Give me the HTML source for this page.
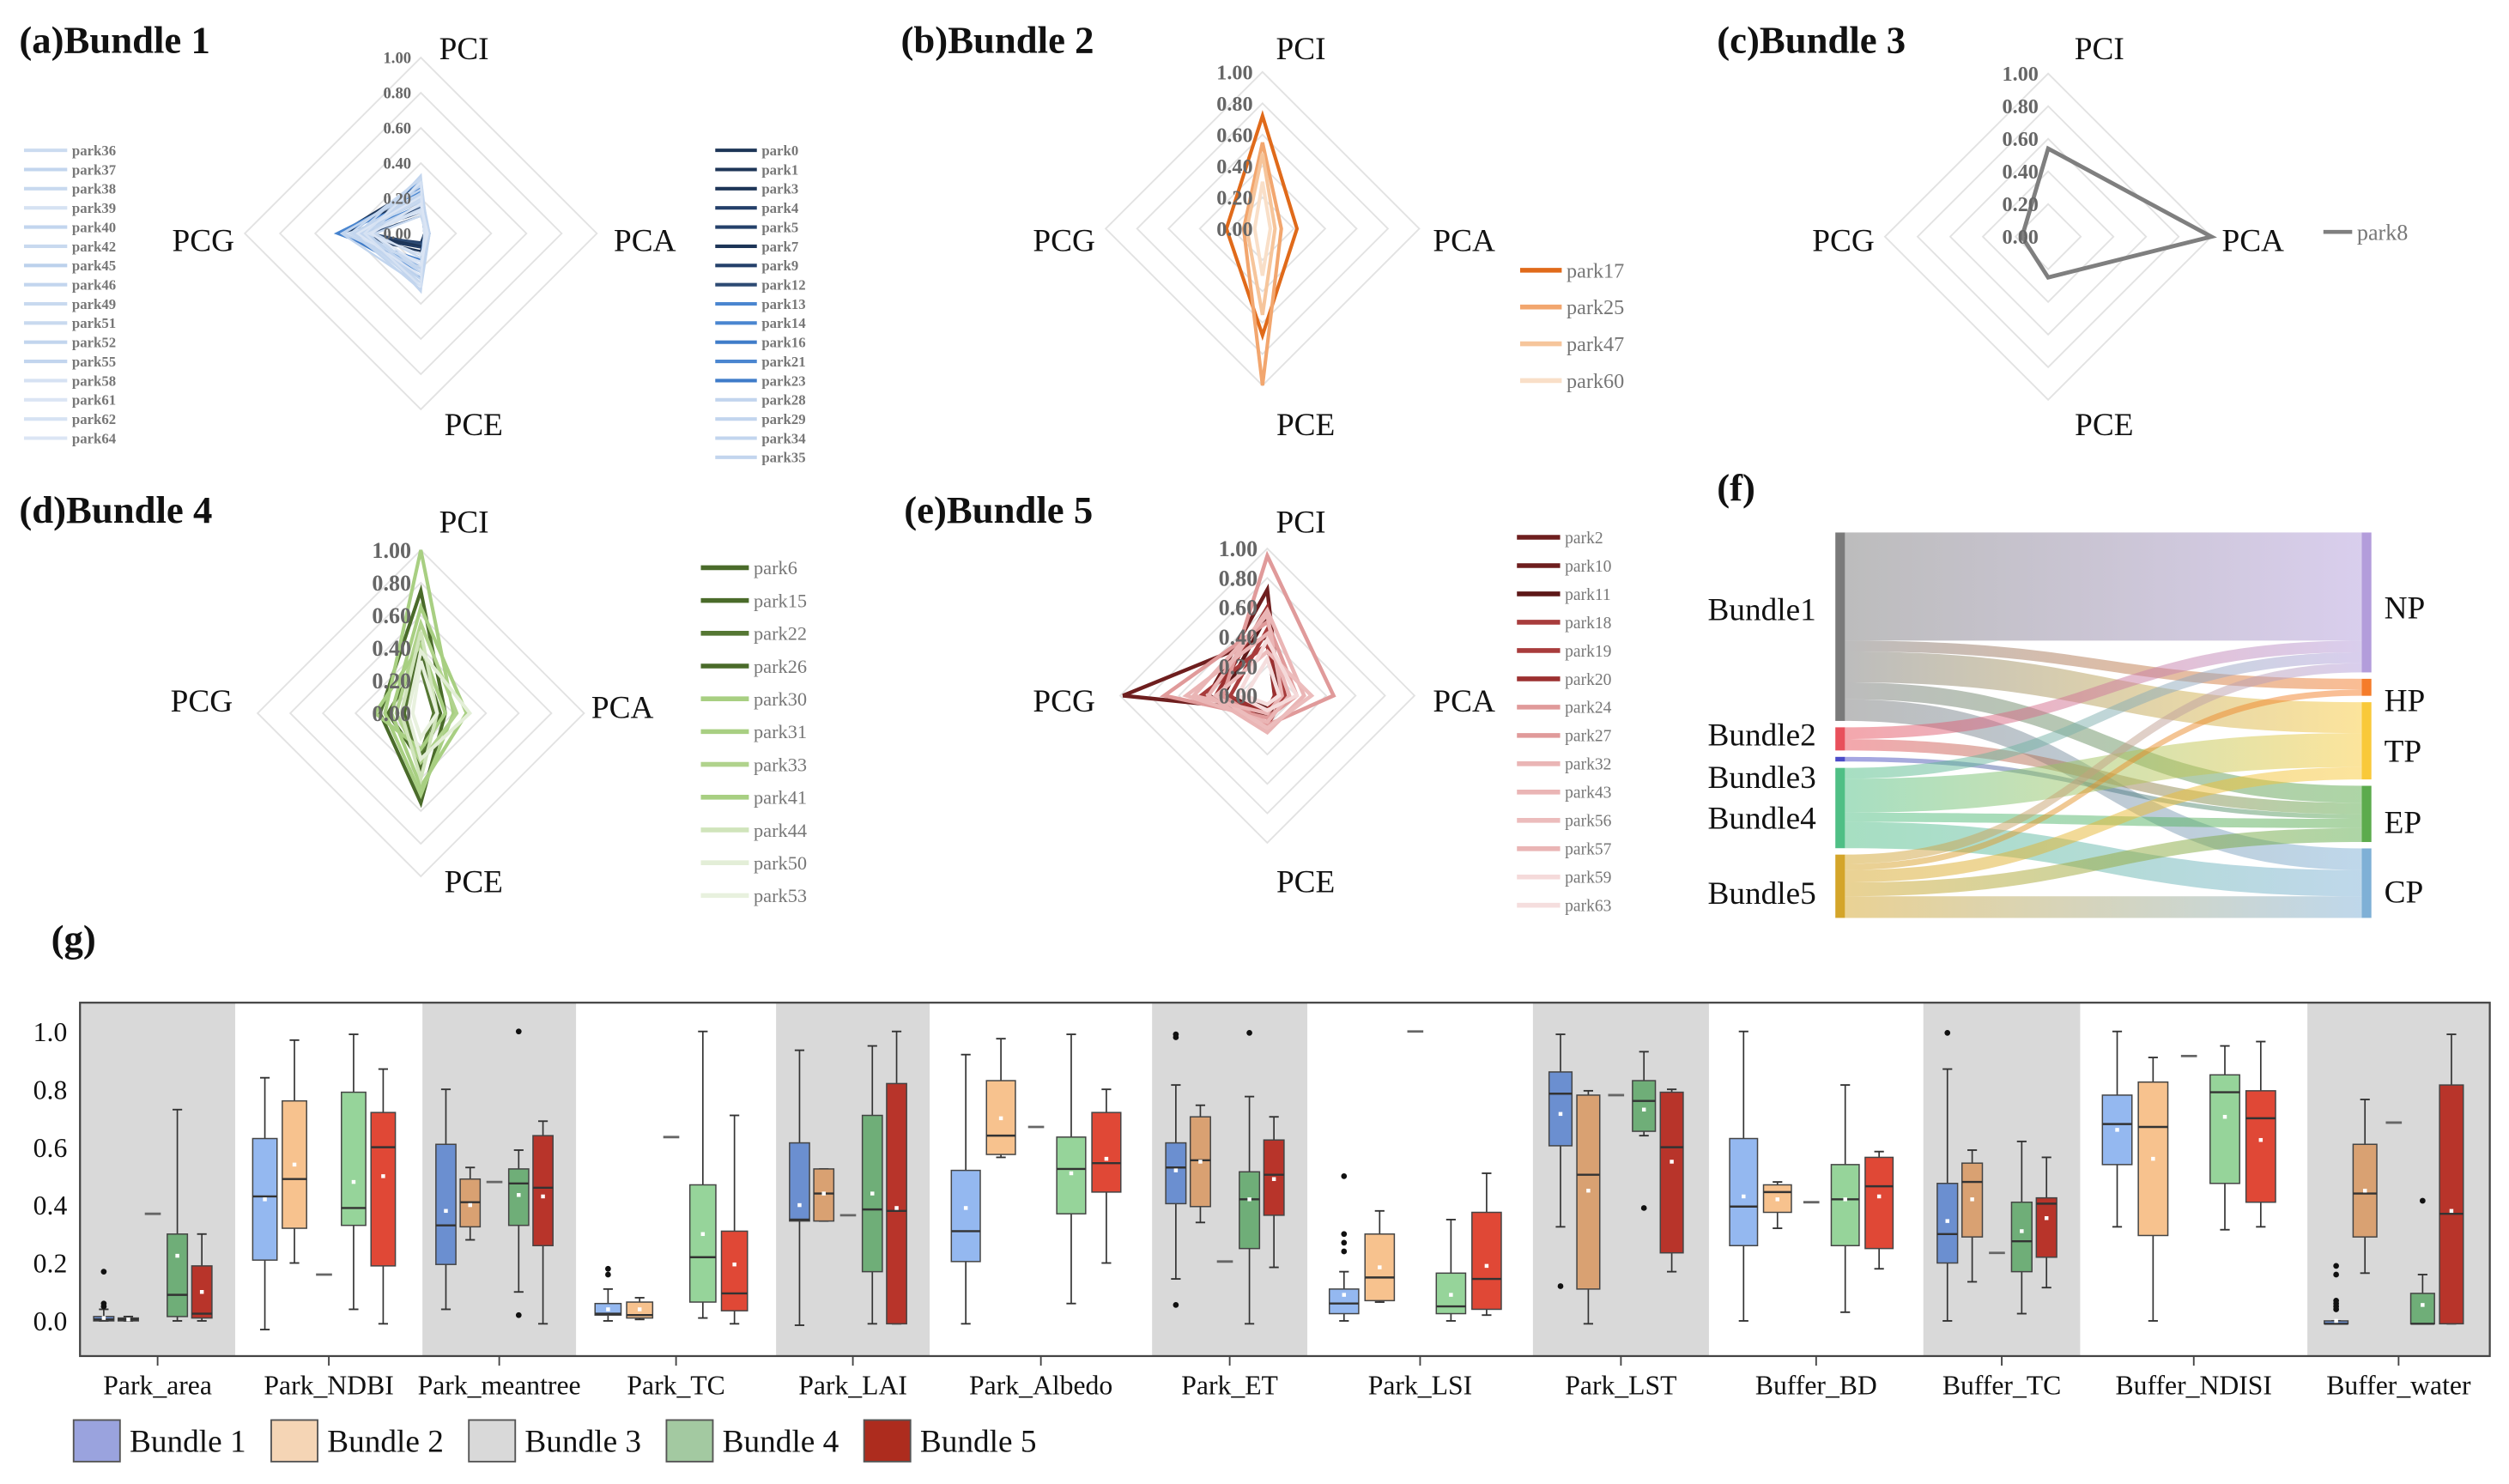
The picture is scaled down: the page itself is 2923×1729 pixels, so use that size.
<!DOCTYPE html>
<html><head><meta charset="utf-8"><style>
html,body{margin:0;padding:0;background:#fff;}
svg{display:block;font-family:"Liberation Serif",serif;}
</style></head><body>
<svg id="fig" width="2923" height="1729" viewBox="0 0 1568 928" preserveAspectRatio="none" xmlns="http://www.w3.org/2000/svg">
<g font-weight="bold" font-size="24" fill="#111">
<text x="12" y="33">(a)Bundle 1</text>
<text x="563" y="33">(b)Bundle 2</text>
<text x="1073" y="33">(c)Bundle 3</text>
<text x="12" y="327">(d)Bundle 4</text>
<text x="565" y="327">(e)Bundle 5</text>
<text x="1073" y="313">(f)</text>
<text x="32" y="595">(g)</text>
</g>
<g id="radars"></g>
<g id="sankey"></g>
<g id="box"></g>
</svg>
<script>
// ---------- RADAR DATA ----------
const radarAxes = ["PCI","PCA","PCE","PCG"];
const radarTicks = ["0.00","0.20","0.40","0.60","0.80","1.00"];
const b1Names = ["park0","park1","park3","park4","park5","park7","park9","park12","park13","park14","park16","park21","park23","park28","park29","park34","park35","park36","park37","park38","park39","park40","park42","park45","park46","park49","park51","park52","park55","park58","park61","park62","park64"];
const b1Values = [[0.28,0.03,0.08,0.46],[0.25,0.02,0.06,0.44],[0.22,0.03,0.10,0.45],[0.18,0.02,0.05,0.40],[0.12,0.04,0.08,0.35],[0.27,0.02,0.07,0.42],[0.15,0.03,0.12,0.30],[0.10,0.05,0.06,0.28],[0.24,0.04,0.18,0.48],[0.30,0.03,0.22,0.40],[0.20,0.02,0.15,0.46],[0.16,0.05,0.20,0.38],[0.26,0.03,0.25,0.44],[0.32,0.04,0.30,0.36],[0.33,0.03,0.33,0.30],[0.20,0.05,0.28,0.34],[0.18,0.02,0.24,0.40],[0.14,0.03,0.20,0.32],[0.22,0.02,0.26,0.38],[0.30,0.04,0.22,0.28],[0.12,0.03,0.16,0.42],[0.25,0.05,0.30,0.45],[0.19,0.02,0.18,0.36],[0.28,0.03,0.26,0.30],[0.16,0.04,0.22,0.34],[0.31,0.02,0.28,0.40],[0.10,0.03,0.14,0.26],[0.23,0.05,0.32,0.38],[0.27,0.02,0.20,0.44],[0.13,0.04,0.12,0.30],[0.21,0.03,0.24,0.36],[0.29,0.02,0.30,0.32],[0.17,0.04,0.18,0.28]];
const b1Colors = ["#1d3557","#1d3557","#1d3557","#24406a","#24406a","#1d3557","#24406a","#2d4a73","#4a86d0","#4a86d0","#3f7cc9","#4a86d0","#3f7cc9","#c2d5ee","#c2d5ee","#c2d5ee","#c2d5ee","#cbdbf0","#c2d5ee","#c8d9ef","#d6e2f3","#c2d5ee","#c8d9ef","#bcd1ec","#c2d5ee","#c8d9ef","#c8d9ef","#c2d5ee","#c2d5ee","#d6e2f3","#dbe5f4","#d6e2f3","#dbe5f4"];
const b2Names = ["park17","park25","park47","park60"];
const b2Values = [[0.72,0.22,0.68,0.23],[0.55,0.12,1.00,0.12],[0.48,0.08,0.55,0.10],[0.30,0.05,0.30,0.05]];
const b2Colors = ["#e06a1a","#f2a66e","#f6c59b","#f9dfc8"];
const b3Names = ["park8"];
const b3Values = [[0.54,1.00,0.25,0.16]];
const b3Colors = ["#7f7f7f"];
const b4Names = ["park6","park15","park22","park26","park30","park31","park33","park41","park44","park50","park53"];
const b4Values = [[0.75,0.15,0.55,0.25],[0.48,0.10,0.35,0.10],[0.28,0.08,0.25,0.12],[0.35,0.12,0.30,0.20],[1.00,0.20,0.50,0.22],[0.65,0.28,0.45,0.18],[0.55,0.22,0.30,0.15],[0.42,0.15,0.22,0.28],[0.50,0.10,0.40,0.12],[0.38,0.30,0.28,0.08],[0.32,0.10,0.15,0.05]];
const b4Colors = ["#4a6b2a","#4a6b2a","#557733","#4a6b2a","#a8cf82","#a8cf82","#b0d38c","#a8cf82","#d0e4bb","#e3eed7","#e8f1de"];
const b5Names = ["park2","park10","park11","park18","park19","park20","park24","park27","park32","park43","park56","park57","park59","park63"];
const b5Values = [[0.40,0.05,0.10,0.98],[0.72,0.08,0.15,0.40],[0.55,0.10,0.08,0.30],[0.35,0.06,0.12,0.45],[0.45,0.12,0.20,0.25],[0.60,0.05,0.10,0.35],[0.95,0.45,0.20,0.30],[0.50,0.20,0.15,0.70],[0.58,0.25,0.25,0.40],[0.42,0.15,0.18,0.55],[0.30,0.30,0.22,0.35],[0.55,0.10,0.12,0.50],[0.38,0.20,0.10,0.20],[0.25,0.08,0.06,0.15]];
const b5Colors = ["#6e1e1e","#6e1e1e","#5e1818","#a83c3c","#a83c3c","#9c3030","#e09a9a","#e09a9a","#eab5b5","#eab5b5","#ecbcbc","#eab5b5","#f5dada","#f5dede"];

// ---------- SANKEY DATA ----------
const sankeySources = ["Bundle1","Bundle2","Bundle3","Bundle4","Bundle5"];
const sankeyTargets = ["NP","HP","TP","EP","CP"];
const linkSource = [0,0,0,0,0,1,1,2,3,3,3,3,4,4,4,4,4];
const linkTarget = [0,1,2,3,4,0,3,3,0,2,3,4,0,1,2,3,4];
const linkValue  = [350,35,100,55,70,38,37,15,35,110,30,85,30,20,40,45,70];

// ---------- BOXPLOT DATA ----------
const boxCategories = ["Park_area","Park_NDBI","Park_meantree","Park_TC","Park_LAI","Park_Albedo","Park_ET","Park_LSI","Park_LST","Buffer_BD","Buffer_TC","Buffer_NDISI","Buffer_water"];
const boxBundles = ["Bundle 1","Bundle 2","Bundle 3","Bundle 4","Bundle 5"];
const yTicks = [0.0,0.2,0.4,0.6,0.8,1.0];
// each: [whiskerLow, q1, median, q3, whiskerHigh, mean]
const bundle1Stats = [[0,0,0.005,0.015,0.04,0.01],[-0.03,0.21,0.43,0.63,0.84,0.42],[0.04,0.195,0.33,0.61,0.80,0.38],[0,0.02,0.025,0.06,0.11,0.04],[-0.015,0.345,0.35,0.615,0.935,0.40],[-0.01,0.205,0.31,0.52,0.92,0.39],[0.145,0.405,0.53,0.615,0.815,0.52],[0,0.025,0.06,0.11,0.17,0.09],[0.325,0.605,0.785,0.86,0.99,0.715],[0,0.26,0.395,0.63,1.0,0.43],[0,0.20,0.30,0.475,0.87,0.345],[0.325,0.54,0.68,0.78,1.0,0.66],[-0.01,-0.01,-0.01,0,0,0.0]];
const bundle2Stats = [[0,0,0.005,0.01,0.015,0.005],[0.2,0.32,0.49,0.76,0.97,0.54],[0.28,0.325,0.41,0.49,0.53,0.40],[0.005,0.01,0.02,0.065,0.08,0.04],[0.345,0.345,0.44,0.525,0.525,0.44],[0.565,0.575,0.64,0.83,0.975,0.70],[0.34,0.395,0.555,0.705,0.745,0.55],[0.065,0.07,0.15,0.30,0.38,0.185],[-0.01,0.11,0.505,0.78,0.795,0.45],[0.32,0.375,0.445,0.47,0.48,0.42],[0.135,0.29,0.48,0.545,0.59,0.42],[0,0.295,0.67,0.825,0.91,0.56],[0.165,0.29,0.44,0.61,0.765,0.45]];
const bundle3Values = [0.37,0.16,0.48,0.635,0.365,0.67,0.205,1.0,0.78,0.41,0.235,0.915,0.685];
const bundle4Stats = [[0,0.015,0.09,0.30,0.73,0.225],[0.04,0.33,0.39,0.79,0.99,0.48],[0.10,0.33,0.475,0.525,0.59,0.435],[0.01,0.065,0.22,0.47,1.0,0.30],[-0.01,0.17,0.385,0.71,0.95,0.44],[0.06,0.37,0.525,0.635,0.99,0.51],[-0.01,0.25,0.42,0.515,0.775,0.42],[0,0.025,0.05,0.165,0.35,0.09],[0.64,0.655,0.76,0.83,0.93,0.73],[0.03,0.26,0.42,0.54,0.815,0.42],[0.025,0.17,0.275,0.41,0.62,0.31],[0.315,0.475,0.79,0.85,0.95,0.705],[-0.01,-0.01,-0.01,0.095,0.16,0.055]];
const bundle5Stats = [[0,0.01,0.025,0.19,0.30,0.10],[-0.01,0.19,0.60,0.72,0.87,0.50],[-0.01,0.26,0.46,0.64,0.69,0.43],[-0.01,0.035,0.095,0.31,0.71,0.195],[-0.01,-0.01,0.38,0.82,1.0,0.39],[0.2,0.445,0.545,0.72,0.80,0.56],[0.185,0.365,0.505,0.625,0.705,0.49],[0.02,0.04,0.145,0.375,0.51,0.19],[0.17,0.235,0.60,0.79,0.80,0.55],[0.18,0.25,0.465,0.565,0.585,0.43],[0.115,0.22,0.405,0.425,0.565,0.355],[0.325,0.41,0.70,0.795,0.965,0.625],[-0.01,-0.01,0.37,0.815,0.99,0.38]];
const outlierCat = [0,0,0,2,2,3,3,6,6,6,6,7,7,7,7,8,8,10,12,12,12,12,12,12,12];
const outlierBundle = [0,0,0,3,3,0,0,0,0,0,3,0,0,0,0,0,3,0,0,0,0,0,0,0,3];
const outlierValue = [0.05,0.06,0.17,0.02,1.0,0.16,0.18,0.055,0.98,0.99,0.995,0.24,0.27,0.30,0.50,0.12,0.39,0.995,0.04,0.05,0.06,0.07,0.16,0.19,0.415];

const NS="http://www.w3.org/2000/svg";
function mk(tag,parent,attrs){const e=document.createElementNS(NS,tag);for(const k in attrs)e.setAttribute(k,attrs[k]);parent.appendChild(e);return e;}

// ---------- RADARS ----------
const radarRoot=document.getElementById('radars');
function radar(id,cx,cy,r,names,values,colors,widths,labelPos,tickFs,legend){
  const g=mk('g',radarRoot,{});
  
  
  const dirs=[[0,-1],[1,0],[0,1],[-1,0]];
  for(let k=1;k<=5;k++){
    const rr=r*k/5;
    const ring=mk('polygon',g,{points:dirs.map(d=>(cx+d[0]*rr)+','+(cy+d[1]*rr)).join(' '),fill:'none',stroke:'#e2e2e2','stroke-width':1});
    
    
  }
  values.forEach((v,i)=>{
    const pts=v.map((val,j)=>(cx+dirs[j][0]*val*r)+','+(cy+dirs[j][1]*val*r)).join(' ');
    const p=mk('polygon',g,{points:pts,fill:'none',stroke:colors[i],'stroke-width':widths,'stroke-linejoin':'miter'});
    
    
  });
  radarTicks.forEach((t,k)=>{
    const tx=mk('text',g,{x:cx-6,y:cy-r*k/5+tickFs*0.35,'text-anchor':'end','font-size':tickFs,'font-weight':'bold',fill:'#666'});
    tx.textContent=t;
    
    
  });
  radarAxes.forEach((a,j)=>{
    const tx=mk('text',g,{x:labelPos[j][0],y:labelPos[j][1],'text-anchor':'middle','font-size':20,fill:'#111'});
    tx.textContent=a;
    
    
  });
  legend.forEach(L=>{
    for(let i=L.from;i<L.to;i++){
      const y=L.y0+(i-L.from)*L.step;
      const ln=mk('line',g,{x1:L.x,x2:L.x+L.len,y1:y,y2:y,stroke:colors[i],'stroke-width':L.lw});
      
      
      const tx=mk('text',g,{x:L.x+L.len+3,y:y+L.fs*0.35,'font-size':L.fs,'font-weight':L.bold?'bold':'normal',fill:'#777'});
      tx.textContent=names[i];
      
      
    }
  });
}
radar('a',263,146,110,b1Names,b1Values,b1Colors,1.3,[[290,37],[403,157],[296,272],[127,157]],10,
  [{x:447,len:26,y0:94,step:12,from:0,to:17,fs:9,lw:2.2,bold:true},{x:15,len:27,y0:94,step:12,from:17,to:33,fs:9,lw:2.2,bold:true}]);
radar('b',789,143,98,b2Names,b2Values,b2Colors,2.2,[[813,37],[915,157],[816,272],[665,157]],13,
  [{x:950,len:26,y0:169,step:23,from:0,to:4,fs:13,lw:3}]);
radar('c',1280,148,102,b3Names,b3Values,b3Colors,2.6,[[1312,37],[1408,157],[1315,272],[1152,157]],13,
  [{x:1452,len:18,y0:145,step:20,from:0,to:1,fs:14,lw:2.5}]);
radar('d',263,446,102,b4Names,b4Values,b4Colors,2.2,[[290,333],[389,449],[296,558],[126,445]],14,
  [{x:438,len:30,y0:355,step:20.5,from:0,to:11,fs:12,lw:3}]);
radar('e',792,435,92,b5Names,b5Values,b5Colors,2.4,[[813,333],[915,445],[816,558],[665,445]],14,
  [{x:948,len:27,y0:336,step:17.7,from:0,to:14,fs:10.5,lw:3}]);

// ---------- SANKEY ----------
const sk=document.getElementById('sankey');
const defs=mk('defs',sk,{});
const srcCol=["#7a7a7a","#e8505b","#4b4bc8","#4fbf85","#d4a52a"];
const tgtCol=["#b39ddb","#f57c2a","#f9c93a","#5cab4d","#7fb0d6"];
const srcLabelShift=[-11,-3,11,6,4];
const tgtLabelShift=[3,8,6,5,5];
const srcX=1147,tgtX=1476,nodeW=6,top0=333,gap=4,kScale=225/linkValue.reduce((a,b)=>a+b,0);
const srcTot=sankeySources.map((_,i)=>linkValue.filter((v,j)=>linkSource[j]===i).reduce((a,b)=>a+b,0));
const tgtTot=sankeyTargets.map((_,i)=>linkValue.filter((v,j)=>linkTarget[j]===i).reduce((a,b)=>a+b,0));
const srcY=[],tgtY=[];let yy=top0;srcTot.forEach(t=>{srcY.push(yy);yy+=t*kScale+gap;});
yy=top0;tgtTot.forEach(t=>{tgtY.push(yy);yy+=t*kScale+gap;});
const srcOff=srcY.slice(),tgtOff=tgtY.slice();
const order=linkValue.map((v,i)=>i);
const tgtOrder=order.slice().sort((a,b)=>linkTarget[a]-linkTarget[b]||linkSource[a]-linkSource[b]);
const linkTY={};tgtOrder.forEach(i=>{linkTY[i]=tgtOff[linkTarget[i]];tgtOff[linkTarget[i]]+=linkValue[i]*kScale;});
order.forEach(i=>{
  const s=linkSource[i],t=linkTarget[i],h=linkValue[i]*kScale;
  const y0=srcOff[s];srcOff[s]+=h;const y1=linkTY[i];
  const gid='lg'+i;const lg=mk('linearGradient',defs,{id:gid,x1:'0',x2:'1',y1:'0',y2:'0'});
  mk('stop',lg,{offset:'0','stop-color':srcCol[s]});mk('stop',lg,{offset:'1','stop-color':tgtCol[t]});
  const x0=srcX+nodeW,x1=tgtX,mx=(x0+x1)/2;
  const d=`M${x0},${y0} C${mx},${y0} ${mx},${y1} ${x1},${y1} L${x1},${y1+h} C${mx},${y1+h} ${mx},${y0+h} ${x0},${y0+h} Z`;
  const p=mk('path',sk,{d:d,fill:`url(#${gid})`,'fill-opacity':0.5});
  
  
});
sankeySources.forEach((n,i)=>{
  const r=mk('rect',sk,{x:srcX,y:srcY[i],width:nodeW,height:srcTot[i]*kScale,fill:srcCol[i]});
  
  
  const t=mk('text',sk,{x:srcX-12,y:srcY[i]+srcTot[i]*kScale/2+7+srcLabelShift[i],'text-anchor':'end','font-size':20,fill:'#111'});
  t.textContent=n;
  
  
});
sankeyTargets.forEach((n,i)=>{
  const r=mk('rect',sk,{x:tgtX,y:tgtY[i],width:nodeW,height:tgtTot[i]*kScale,fill:tgtCol[i]});
  
  
  const t=mk('text',sk,{x:tgtX+14,y:tgtY[i]+tgtTot[i]*kScale/2+7+tgtLabelShift[i],'font-size':20,fill:'#111'});
  t.textContent=n;
  
  
});

// ---------- BOXPLOT ----------
const bx=document.getElementById('box');
const bandEdges=[50,147,264,360,485,581,720,817,958,1068,1202,1300,1442,1556];
const fTop=627,fBot=848;
const yS=v=>826-v*181;
for(let k=0;k<boxCategories.length;k++){
  if(k%2===0){const r=mk('rect',bx,{x:bandEdges[k],y:fTop,width:bandEdges[k+1]-bandEdges[k],height:fBot-fTop,fill:'#d9d9d9'});
    }
}
const frame=mk('rect',bx,{x:50,y:fTop,width:1506,height:fBot-fTop,fill:'none',stroke:'#444','stroke-width':1.2});

yTicks.forEach(v=>{
  const t=mk('text',bx,{x:42,y:yS(v)+6,'text-anchor':'end','font-size':17,fill:'#111'});
  t.textContent=v.toFixed(1);
  
});
const darkC=["#6b8fd0","#d9a172","#bdbdbd","#6fae78","#b8342a"];
const lightC=["#94b8f0","#f7c28e","#d0d0d0","#96d49a","#e04836"];
const allStats=[bundle1Stats,bundle2Stats,null,bundle4Stats,bundle5Stats];
boxCategories.forEach((c,k)=>{
  const x0=bandEdges[k],w=bandEdges[k+1]-x0,cx=x0+w/2;
  const tk=mk('line',bx,{x1:cx,x2:cx,y1:fBot,y2:fBot+6,stroke:'#444'});
  
  const t=mk('text',bx,{x:cx,y:872,'text-anchor':'middle','font-size':17,fill:'#111'});
  t.textContent=c;
  for(let b=0;b<5;b++){
    const bxC=cx+(b-2)*0.158*w-3,bw=0.13*w;
    const col=k%2===0?darkC[b]:lightC[b];
    if(b===2){
      const l=mk('line',bx,{x1:bxC-5,x2:bxC+5,y1:yS(bundle3Values[k]),y2:yS(bundle3Values[k]),stroke:'#666','stroke-width':1.5});
      
      continue;
    }
    const s=allStats[b][k];
    const g=mk('g',bx,{});
    
    
    mk('line',g,{x1:bxC,x2:bxC,y1:yS(s[0]),y2:yS(s[4]),stroke:'#333','stroke-width':0.9});
    mk('line',g,{x1:bxC-3,x2:bxC+3,y1:yS(s[0]),y2:yS(s[0]),stroke:'#333','stroke-width':1});
    mk('line',g,{x1:bxC-3,x2:bxC+3,y1:yS(s[4]),y2:yS(s[4]),stroke:'#333','stroke-width':1});
    mk('rect',g,{x:bxC-bw/2,y:yS(s[3]),width:bw,height:Math.max(1,yS(s[1])-yS(s[3])),fill:col,stroke:'#444','stroke-width':0.8});
    mk('line',g,{x1:bxC-bw/2,x2:bxC+bw/2,y1:yS(s[2]),y2:yS(s[2]),stroke:'#333','stroke-width':1.3});
    mk('rect',g,{x:bxC-1.2,y:yS(s[5])-1.2,width:2.4,height:2.4,fill:'#fff'});
  }
});
outlierValue.forEach((v,i)=>{
  const k=outlierCat[i],x0=bandEdges[k],w=bandEdges[k+1]-x0;
  const xc=x0+w/2+(outlierBundle[i]-2)*0.158*w-3;
  const c=mk('circle',bx,{cx:xc,cy:yS(v),r:1.8,fill:'#111'});
  
});
const legCols=["#9aa3de","#f5d5b5","#d9d9d9","#a3c9a1","#ad2c1e"];
boxBundles.forEach((n,i)=>{
  const x=46+i*123.5;
  const r=mk('rect',bx,{x:x,y:888,width:29,height:26,fill:legCols[i],stroke:'#555','stroke-width':1});
  
  const t=mk('text',bx,{x:x+35,y:908,'font-size':20,fill:'#111'});
  t.textContent=n;
});
</script>
</body></html>
